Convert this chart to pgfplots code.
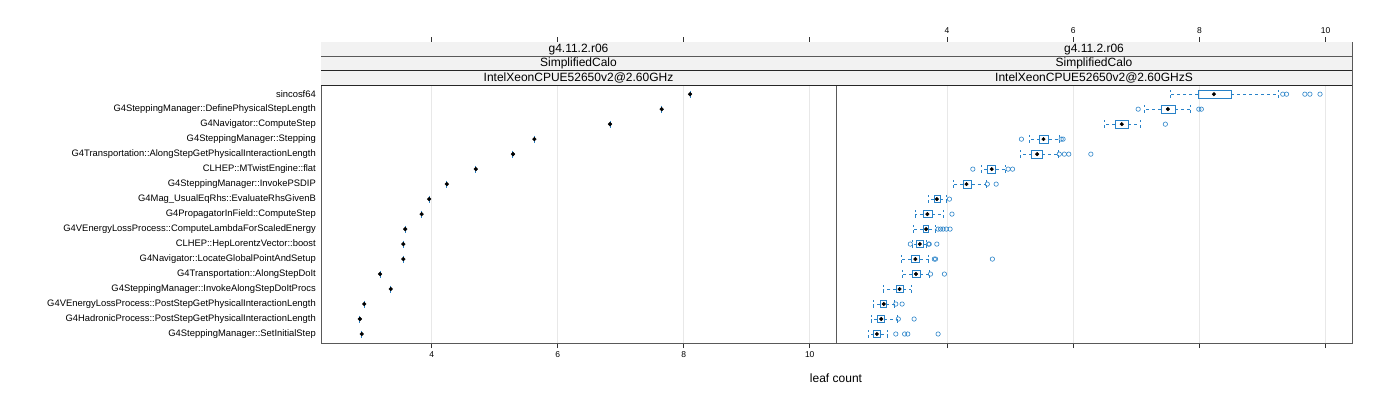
\documentclass[border=0pt]{standalone}
\usepackage{fontspec}
\setmainfont{Liberation Sans}
\usepackage{pgfplots}
\pgfplotsset{compat=1.18}
\usepgfplotslibrary{statistics}

\definecolor{bwblue}{RGB}{40,130,200}
\definecolor{stripbg}{RGB}{242,242,242}

\pgfplotsset{
  panel/.style={
    scale only axis, width=515pt, height=301pt,
    xmin=2.243, xmax=10.417, ymin=0.4, ymax=20.48,
    xtick={4,6,8,10}, xtick pos=both, tick align=outside,
    major tick length=5pt,
    x tick style={black!80, line width=0.5pt},
    ytick={1,...,17}, y tick style={draw=none},
    xmajorgrids, grid style={gray!18, line width=0.6pt},
    axis line style={gray!70!black, line width=0.7pt},
    tick label style={font=\fontsize{8.5}{9}\selectfont},
    /pgf/number format/assume math mode=true,
    clip=false,
    boxplot/draw direction=x,
  },
  bw/.style={draw=bwblue, line width=0.7pt, mark=o,
    mark options={draw=bwblue, solid, line width=0.6pt}, mark size=2.2pt,
    boxplot/box extend=0.5, boxplot/whisker extend=0.5,
    boxplot/every whisker/.style={dashed},
    boxplot/every median/.style={draw=none}},
}

% strip rows drawn inside each panel
\newcommand{\strips}[3]{%
  \fill[stripbg] (axis cs:2.243,17.6) rectangle (axis cs:10.417,20.48);
  \draw[black!85, line width=0.7pt] (axis cs:2.243,17.6) -- (axis cs:10.417,17.6);
  \draw[black!85, line width=0.7pt] (axis cs:2.243,18.56) -- (axis cs:10.417,18.56);
  \draw[gray!70!black, line width=0.7pt] (axis cs:2.243,19.52) -- (axis cs:10.417,19.52);
  \node[font=\fontsize{12}{13}\selectfont, text height=1.6ex, text depth=0.4ex] at (axis cs:6.33,18.08) {#3};
  \node[font=\fontsize{12}{13}\selectfont, text height=1.6ex, text depth=0.4ex] at (axis cs:6.33,19.04) {#2};
  \node[font=\fontsize{12}{13}\selectfont, text height=1.6ex, text depth=0.4ex] at (axis cs:6.33,20.00) {#1};
}

\begin{document}
\begin{tikzpicture}
\useasboundingbox (0,0) rectangle (1400pt,400pt);

% left panel
\begin{axis}[panel, at={(321pt,57pt)}, anchor=south west,
    xticklabel pos=lower,
    yticklabel style={font=\fontsize{9.4}{10}\selectfont, inner sep=0pt},
    yticklabels={G4SteppingManager::SetInitialStep,
      G4HadronicProcess::PostStepGetPhysicalInteractionLength,
      G4VEnergyLossProcess::PostStepGetPhysicalInteractionLength,
      G4SteppingManager::InvokeAlongStepDoItProcs,
      G4Transportation::AlongStepDoIt,
      G4Navigator::LocateGlobalPointAndSetup,
      CLHEP::HepLorentzVector::boost,
      G4VEnergyLossProcess::ComputeLambdaForScaledEnergy,
      G4PropagatorInField::ComputeStep,
      G4Mag\_UsualEqRhs::EvaluateRhsGivenB,
      G4SteppingManager::InvokePSDIP,
      CLHEP::MTwistEngine::flat,
      G4Transportation::AlongStepGetPhysicalInteractionLength,
      G4SteppingManager::Stepping,
      G4Navigator::ComputeStep,
      G4SteppingManager::DefinePhysicalStepLength,
      sincosf64},
]
\strips{g4.11.2.r06}{SimplifiedCalo}{IntelXeonCPUE52650v2@2.60GHz}
\addplot[only marks, mark=|, mark size=3.5pt, bwblue, line width=1pt] coordinates {
  (8.10,17) (7.65,16) (6.83,15) (5.63,14) (5.29,13) (4.70,12) (4.24,11) (3.96,10)
  (3.84,9) (3.58,8) (3.55,7) (3.55,6) (3.18,5) (3.35,4) (2.93,3) (2.86,2) (2.89,1)};
\addplot[only marks, mark=*, mark size=1.9pt, black] coordinates {
  (8.10,17) (7.65,16) (6.83,15) (5.63,14) (5.29,13) (4.70,12) (4.24,11) (3.96,10)
  (3.84,9) (3.58,8) (3.55,7) (3.55,6) (3.18,5) (3.35,4) (2.93,3) (2.86,2) (2.89,1)};
\draw[black, line width=0.8pt] (rel axis cs:1,0) -- (rel axis cs:1,1);
\end{axis}

% right panel
\begin{axis}[panel, at={(836pt,57pt)}, anchor=south west, width=516pt,
    xticklabel pos=upper, yticklabels={},
]
\strips{g4.11.2.r06}{SimplifiedCalo}{IntelXeonCPUE52650v2@2.60GHzS}
\addplot[bw, boxplot prepared={draw position=17, lower whisker=7.54, lower quartile=7.98, median=8.23, upper quartile=8.50, upper whisker=9.25}]
  coordinates {(0,9.32) (0,9.38) (0,9.67) (0,9.75) (0,9.91)};
\addplot[bw, boxplot prepared={draw position=16, lower whisker=7.12, lower quartile=7.39, median=7.50, upper quartile=7.62, upper whisker=7.86}]
  coordinates {(0,7.03) (0,7.99) (0,8.03)};
\addplot[bw, boxplot prepared={draw position=15, lower whisker=6.50, lower quartile=6.67, median=6.77, upper quartile=6.87, upper whisker=7.06}]
  coordinates {(0,7.46)};
\addplot[bw, boxplot prepared={draw position=14, lower whisker=5.30, lower quartile=5.47, median=5.53, upper quartile=5.61, upper whisker=5.78}]
  coordinates {(0,5.18) (0,5.81) (0,5.84)};
\addplot[bw, boxplot prepared={draw position=13, lower whisker=5.17, lower quartile=5.34, median=5.43, upper quartile=5.51, upper whisker=5.76}]
  coordinates {(0,5.78) (0,5.86) (0,5.93) (0,6.28)};
\addplot[bw, boxplot prepared={draw position=12, lower whisker=4.55, lower quartile=4.64, median=4.71, upper quartile=4.77, upper whisker=4.92}]
  coordinates {(0,4.41) (0,4.97) (0,5.04)};
\addplot[bw, boxplot prepared={draw position=11, lower whisker=4.10, lower quartile=4.26, median=4.31, upper quartile=4.39, upper whisker=4.62}]
  coordinates {(0,4.64) (0,4.78)};
\addplot[bw, boxplot prepared={draw position=10, lower whisker=3.71, lower quartile=3.80, median=3.84, upper quartile=3.89, upper whisker=3.99}]
  coordinates {(0,4.04)};
\addplot[bw, boxplot prepared={draw position=9, lower whisker=3.50, lower quartile=3.62, median=3.69, upper quartile=3.77, upper whisker=3.95}]
  coordinates {(0,4.08)};
\addplot[bw, boxplot prepared={draw position=8, lower whisker=3.47, lower quartile=3.62, median=3.67, upper quartile=3.71, upper whisker=3.82}]
  coordinates {(0,3.86) (0,3.90) (0,3.94) (0,3.99) (0,4.05)};
\addplot[bw, boxplot prepared={draw position=7, lower whisker=3.46, lower quartile=3.52, median=3.57, upper quartile=3.62, upper whisker=3.68}]
  coordinates {(0,3.42) (0,3.71) (0,3.72) (0,3.84)};
\addplot[bw, boxplot prepared={draw position=6, lower whisker=3.28, lower quartile=3.43, median=3.50, upper quartile=3.57, upper whisker=3.71}]
  coordinates {(0,3.80) (0,3.82) (0,4.72)};
\addplot[bw, boxplot prepared={draw position=5, lower whisker=3.29, lower quartile=3.45, median=3.51, upper quartile=3.58, upper whisker=3.72}]
  coordinates {(0,3.74) (0,3.96)};
\addplot[bw, boxplot prepared={draw position=4, lower whisker=2.99, lower quartile=3.20, median=3.25, upper quartile=3.31, upper whisker=3.43}]
  coordinates {};
\addplot[bw, boxplot prepared={draw position=3, lower whisker=2.83, lower quartile=2.94, median=3.00, upper quartile=3.04, upper whisker=3.17}]
  coordinates {(0,3.19) (0,3.29)};
\addplot[bw, boxplot prepared={draw position=2, lower whisker=2.80, lower quartile=2.90, median=2.96, upper quartile=3.01, upper whisker=3.22}]
  coordinates {(0,3.23) (0,3.48)};
\addplot[bw, boxplot prepared={draw position=1, lower whisker=2.75, lower quartile=2.84, median=2.89, upper quartile=2.95, upper whisker=3.06}]
  coordinates {(0,3.19) (0,3.33) (0,3.38) (0,3.86)};
% medians
\addplot[only marks, mark=*, mark size=1.8pt, black] coordinates {
  (8.23,17) (7.50,16) (6.77,15) (5.53,14) (5.43,13) (4.71,12) (4.31,11) (3.84,10)
  (3.69,9) (3.67,8) (3.57,7) (3.50,6) (3.51,5) (3.25,4) (3.00,3) (2.96,2) (2.89,1)};
\end{axis}

\node[font=\fontsize{12}{13}\selectfont] at (836pt,22pt) {leaf count};
\end{tikzpicture}
\end{document}
